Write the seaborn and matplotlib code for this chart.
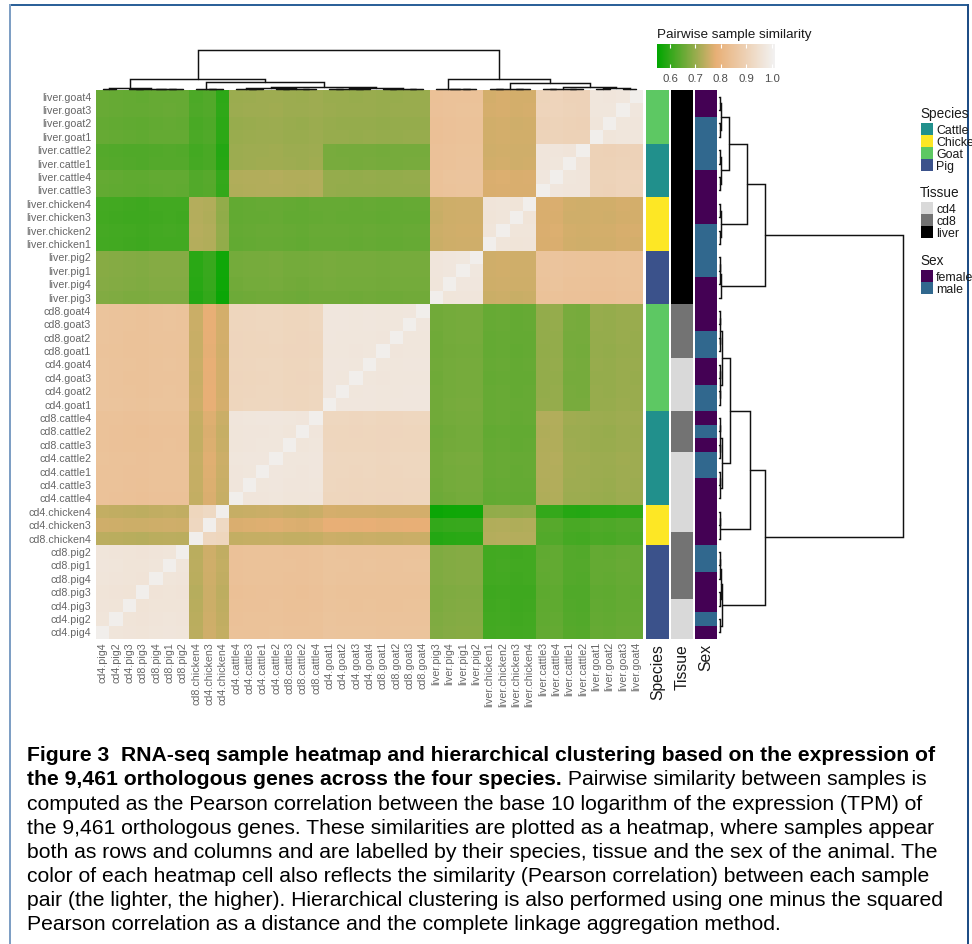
import numpy as np
import pandas as pd
import matplotlib
matplotlib.use("Agg")
import matplotlib.pyplot as plt
import seaborn as sns
from matplotlib.colors import LinearSegmentedColormap, ListedColormap
from matplotlib.patches import Rectangle

W, H = 972, 945

# samples in column order (left to right), rows are the same order flipped
samples = ["cd4.pig4", "cd4.pig2", "cd4.pig3", "cd8.pig3", "cd8.pig4", "cd8.pig1", "cd8.pig2",
           "cd8.chicken4", "cd4.chicken3", "cd4.chicken4",
           "cd4.cattle4", "cd4.cattle3", "cd4.cattle1", "cd4.cattle2", "cd8.cattle3", "cd8.cattle2", "cd8.cattle4",
           "cd4.goat1", "cd4.goat2", "cd4.goat3", "cd4.goat4", "cd8.goat1", "cd8.goat2", "cd8.goat3", "cd8.goat4",
           "liver.pig3", "liver.pig4", "liver.pig1", "liver.pig2",
           "liver.chicken1", "liver.chicken2", "liver.chicken3", "liver.chicken4",
           "liver.cattle3", "liver.cattle4", "liver.cattle1", "liver.cattle2",
           "liver.goat1", "liver.goat2", "liver.goat3", "liver.goat4"]

# similarity, one line per sample group
block_sizes = [7, 1, 1, 1, 7, 8, 4, 4, 2, 2, 4]
pig_cd =       [.965, .735, .755, .742, .845, .850, .680, .615, .645, .635, .650]
chicken8_4 =   [.735, 1.00, .920, .915, .745, .750, .590, .730, .630, .620, .625]
chicken4_3 =   [.755, .920, 1.00, .925, .770, .780, .605, .725, .635, .625, .630]
chicken4_4 =   [.742, .915, .925, 1.00, .750, .760, .565, .695, .600, .590, .595]
cattle_cd =    [.845, .745, .770, .750, .970, .915, .665, .650, .725, .710, .705]
goat_cd =      [.850, .750, .780, .760, .915, .970, .665, .650, .695, .670, .700]
pig_liver =    [.680, .590, .605, .565, .665, .665, .970, .755, .850, .850, .845]
chicken_liver = [.615, .730, .725, .695, .650, .650, .755, .965, .765, .760, .760]
cattle34_liver = [.645, .630, .635, .600, .725, .695, .850, .765, .970, .970, .905]
cattle12_liver = [.635, .620, .625, .590, .710, .670, .850, .760, .970, .970, .905]
goat_liver =   [.650, .625, .630, .595, .705, .700, .845, .760, .905, .905, .970]

# small sample to sample shade differences seen inside the blocks
sample_shift = [.002, .000, -.002, -.003, .000, .001, .000,
                .000, .000, .000,
                -.002, .000, .001, .002, -.001, -.002, .001,
                .002, .001, .000, .001, -.001, .000, .001, .001,
                -.004, .000, .002, .002,
                .000, .002, -.001, .000,
                .001, .002, -.002, -.003,
                -.001, -.002, .002, .001]

species_names = ["Cattle", "Chicken", "Goat", "Pig"]
species_colors = ["#21908C", "#FDE725", "#5DC863", "#3B528B"]
tissue_names = ["cd4", "cd8", "liver"]
tissue_colors = ["#D9D9D9", "#737373", "#000000"]
sex_names = ["female", "male"]
sex_colors = ["#440154", "#31688E"]

# sex of each row from the top of the annotation bar
sex_names_run = ["female", "male", "female", "male", "female", "male", "female", "male", "female",
                 "male", "female", "male", "female", "male", "female", "male", "female"]
sex_run_sizes = [2, 4, 4, 4, 4, 2, 2, 2, 1, 1, 1, 2, 5, 2, 3, 1, 1]

# (height, left, right), leaves are sample positions
pig_tree = (.014, (.004, 0, 1), (.009, (.003, 2, 3), (.005, 4, (.003, 5, 6))))
chicken_tree = (.008, 7, (.004, 8, 9))
cattle_tree = (.015, (.005, 10, (.003, 11, 12)), (.006, (.003, 13, 14), (.003, 15, 16)))
goat_tree = (.018, (.005, (.003, 17, 18), (.003, 19, 20)), (.006, (.003, 21, 22), (.003, 23, 24)))
liver_pig_tree = (.010, 25, (.005, 26, (.003, 27, 28)))
liver_chicken_tree = (.009, (.003, 29, 30), (.003, 31, 32))
liver_cattle_tree = (.011, (.003, 33, 34), (.004, 35, 36))
liver_goat_tree = (.013, (.004, 37, 38), (.003, 39, 40))
tree = (1.0,
        (.25, pig_tree, (.17, chicken_tree, (.06, cattle_tree, goat_tree))),
        (.25, liver_pig_tree, (.15, liver_chicken_tree, (.055, liver_cattle_tree, liver_goat_tree))))

caption_bold = ["Figure 3  RNA-seq sample heatmap and hierarchical clustering based on the expression of",
                "the 9,461 orthologous genes across the four species."]
caption_rest = [" Pairwise similarity between samples is",
                "computed as the Pearson correlation between the base 10 logarithm of the expression (TPM) of",
                "the 9,461 orthologous genes. These similarities are plotted as a heatmap, where samples appear",
                "both as rows and columns and are labelled by their species, tissue and the sex of the animal. The",
                "color of each heatmap cell also reflects the similarity (Pearson correlation) between each sample",
                "pair (the lighter, the higher). Hierarchical clustering is also performed using one minus the squared",
                "Pearson correlation as a distance and the complete linkage aggregation method."]


def group_of(name):
    for g in ["pig", "chicken", "cattle", "goat"]:
        if g in name:
            return g.capitalize()


sns.set_style("white")
plt.rcParams["font.family"] = ["Liberation Sans", "DejaVu Sans"]
plt.rcParams["text.color"] = "black"

fig = plt.figure(figsize=(W / 100, H / 100), dpi=100, facecolor="white")


def box(x0, y0, x1, y1):
    # pixel box, y measured from the top of the picture
    return fig.add_axes([x0 / W, 1 - y1 / H, (x1 - x0) / W, (y1 - y0) / H])


def px(x, y):
    return x / W, 1 - y / H


# blue frame round the figure panel
for xy, w, h, c in [((9, 5), 960, 2, "#2C6199"), ((9, 5), 2, 940, "#7E9FC4"), ((967, 5), 2, 940, "#1F4E86")]:
    fig.add_artist(Rectangle((xy[0] / W, 1 - (xy[1] + h) / H), w / W, h / H, color=c, lw=0,
                             transform=fig.transFigure))

# heatmap
block_table = np.array([pig_cd, chicken8_4, chicken4_3, chicken4_4, cattle_cd, goat_cd, pig_liver,
                        chicken_liver, cattle34_liver, cattle12_liver, goat_liver])
sim = np.repeat(np.repeat(block_table, block_sizes, axis=0), block_sizes, axis=1)
shift = np.array(sample_shift)
sim = sim + shift[:, None] + shift[None, :]
np.fill_diagonal(sim, 1.0)
sim_df = pd.DataFrame(sim, index=samples, columns=samples).iloc[::-1]

terrain = LinearSegmentedColormap.from_list("terrain3", ["#00A600", "#E8AF76", "#F2F2F2"], N=256)
TOP, BOTTOM = 91, 640
ax_heat = box(96, TOP, 643, BOTTOM)
ax_cbar = box(657, 45, 775, 69)
sns.heatmap(sim_df, ax=ax_heat, cmap=terrain, vmin=.549, vmax=1.013, cbar_ax=ax_cbar,
            cbar_kws={"orientation": "horizontal"}, xticklabels=True, yticklabels=True)
ax_heat.set_xlabel("")
ax_heat.set_ylabel("")
ax_heat.tick_params(length=0, labelsize=7.7, labelcolor="#666666")
ax_heat.tick_params(axis="x", labelrotation=90, pad=1.5)
ax_heat.tick_params(axis="y", labelrotation=0, pad=3.5)
for t in ax_heat.get_xticklabels():
    t.set_verticalalignment("top")

# colour key
ax_cbar.set_xticks([.6, .7, .8, .9, 1.0])
ax_cbar.set_xticklabels(["0.6", "0.7", "0.8", "0.9", "1.0"])
ax_cbar.set_axisbelow(False)
ax_cbar.tick_params(axis="x", which="major", direction="in", length=3.2, width=.8, color="white", top=True,
                    bottom=True, labelsize=8.2, labelcolor="#4d4d4d", pad=3.5)
ax_heat.collections[0].colorbar.outline.set_visible(False)
fig.text(*px(657, 38), "Pairwise sample similarity", fontsize=9.7, color="#1a1a1a", va="baseline")

# annotation bars
row_names = list(sim_df.index)
species_row = [group_of(n) for n in row_names]
tissue_row = [n.split(".")[0] for n in row_names]
sex_row = np.repeat(sex_names_run, sex_run_sizes)

annotations = [("Species", species_row, species_names, species_colors, 646, 669),
               ("Tissue", tissue_row, tissue_names, tissue_colors, 671, 693),
               ("Sex", sex_row, sex_names, sex_colors, 695, 717)]
for title, values, names, colors, x0, x1 in annotations:
    ax_bar = box(x0, TOP, x1, BOTTOM)
    codes = pd.DataFrame({title: [names.index(v) for v in values]}, index=row_names)
    sns.heatmap(codes, ax=ax_bar, cmap=ListedColormap(colors), vmin=-.5, vmax=len(names) - .5, cbar=False,
                xticklabels=False, yticklabels=False)
    ax_bar.set_xlabel("")
    ax_bar.set_ylabel("")
    fig.text(*px((x0 + x1) / 2, 644), title, rotation=90, fontsize=11.3, color="#1a1a1a", ha="center", va="top")


# dendrograms
def draw_tree(node, ax, horizontal):
    if not isinstance(node, tuple):
        return node + .5, 0.0
    height, left, right = node
    p0, h0 = draw_tree(left, ax, horizontal)
    p1, h1 = draw_tree(right, ax, horizontal)
    pos = [p0, p0, p1, p1]
    hgt = [h0, height, height, h1]
    if horizontal:
        ax.plot(hgt, pos, color="#111111", lw=1.05, solid_joinstyle="miter", clip_on=False)
    else:
        ax.plot(pos, hgt, color="#111111", lw=1.05, solid_joinstyle="miter", clip_on=False)
    return (p0 + p1) / 2, height


n = len(samples)
ax_top = box(96, 51, 643, 90)
draw_tree(tree, ax_top, False)
ax_top.set_xlim(0, n)
ax_top.set_ylim(0, 1)
ax_top.axis("off")

ax_right = box(719, TOP, 903, BOTTOM)
draw_tree(tree, ax_right, True)
ax_right.set_xlim(0, 1)
ax_right.set_ylim(0, n)
ax_right.axis("off")

# legends
legend_x = 921
for title, names, colors, title_y, first_y in [("Species", species_names, species_colors, 118, 124),
                                               ("Tissue", tissue_names, tissue_colors, 197, 203),
                                               ("Sex", sex_names, sex_colors, 265, 271)]:
    fig.text(*px(legend_x - 1, title_y), title, fontsize=9.8, color="#1a1a1a", va="baseline")
    for i, (name, color) in enumerate(zip(names, colors)):
        y = first_y + i * 12.1
        fig.add_artist(Rectangle(px(legend_x, y + 11.6), 11.8 / W, 11.6 / H, color=color, lw=0,
                                 transform=fig.transFigure))
        fig.text(*px(legend_x + 15, y + 10), name, fontsize=8.9, color="#1a1a1a", va="baseline")

# caption
cap_size = 15.2
line_ys = [761.5, 785.5, 810, 834, 858, 882, 906, 930]
fig.text(*px(27, line_ys[0]), caption_bold[0], fontsize=cap_size, fontweight="bold", va="baseline", color="black")
second = fig.text(*px(27, line_ys[1]), caption_bold[1], fontsize=cap_size, fontweight="bold", va="baseline",
                  color="black")
fig.canvas.draw()
end = second.get_window_extent().x1
fig.text(end / W, 1 - line_ys[1] / H, caption_rest[0], fontsize=cap_size, va="baseline", color="black")
for y, line in zip(line_ys[2:], caption_rest[1:]):
    fig.text(*px(27, y), line, fontsize=cap_size, va="baseline", color="black")

fig.savefig("out.png", dpi=100)
